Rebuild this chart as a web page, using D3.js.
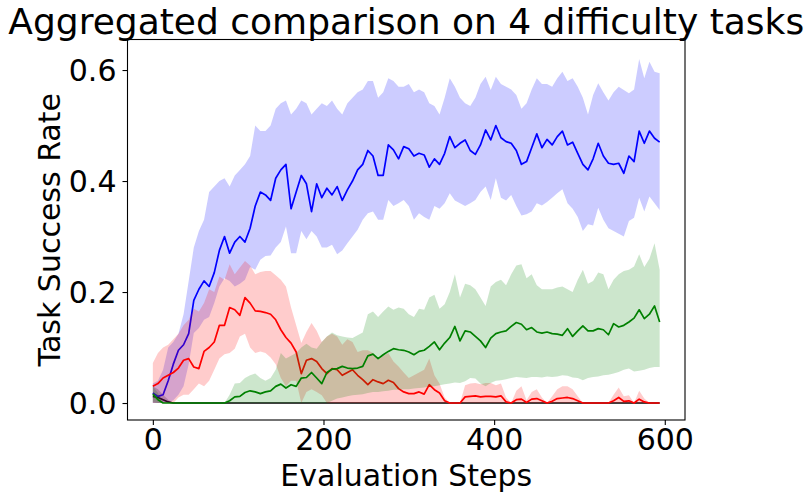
<!DOCTYPE html>
<html>
<head>
<meta charset="utf-8">
<script src="https://cdn.jsdelivr.net/npm/d3@7"></script>
<style>
  body { margin: 0; background: #fff; }
  text { font-family: "DejaVu Sans", sans-serif; }
</style>
</head>
<body>
<div id="chart"></div>
<script>
// evaluation steps (every 6 steps, 0..594)
var steps = d3.range(0, 595, 6);

var blueMean = [
  0.018, 0.012, 0.015, 0.04, 0.07, 0.095, 0.105, 0.125, 0.185, 0.205,
  0.22, 0.21, 0.235, 0.275, 0.30, 0.27, 0.29, 0.30, 0.29, 0.315,
  0.355, 0.38, 0.375, 0.365, 0.405, 0.42, 0.43, 0.35, 0.38, 0.41,
  0.395, 0.345, 0.395, 0.37, 0.387, 0.375, 0.39, 0.365, 0.384, 0.40,
  0.42, 0.43, 0.455, 0.445, 0.41, 0.41, 0.465, 0.456, 0.44, 0.462,
  0.458, 0.445, 0.45, 0.447, 0.425, 0.44, 0.43, 0.45, 0.48, 0.46,
  0.468, 0.474, 0.455, 0.448, 0.465, 0.492, 0.474, 0.50, 0.478, 0.471,
  0.468, 0.455, 0.43, 0.435, 0.46, 0.485, 0.46, 0.475, 0.465, 0.48,
  0.49, 0.465, 0.47, 0.45, 0.43, 0.42, 0.44, 0.468, 0.445, 0.432,
  0.43, 0.432, 0.414, 0.445, 0.435, 0.49, 0.468, 0.49, 0.477, 0.47
];
var blueHi = [
  0.035, 0.04, 0.06, 0.10, 0.11, 0.125, 0.16, 0.22, 0.28, 0.31,
  0.33, 0.38, 0.39, 0.40, 0.405, 0.39, 0.41, 0.42, 0.43, 0.445,
  0.50, 0.49, 0.49, 0.50, 0.53, 0.54, 0.545, 0.52, 0.53, 0.545,
  0.54, 0.52, 0.53, 0.54, 0.535, 0.545, 0.53, 0.52, 0.54, 0.55,
  0.56, 0.565, 0.58, 0.58, 0.55, 0.56, 0.585, 0.58, 0.57, 0.57,
  0.575, 0.56, 0.565, 0.56, 0.54, 0.535, 0.52, 0.55, 0.585, 0.57,
  0.55, 0.54, 0.535, 0.55, 0.575, 0.588, 0.564, 0.588, 0.575, 0.57,
  0.565, 0.555, 0.53, 0.54, 0.565, 0.585, 0.575, 0.575, 0.57, 0.585,
  0.597, 0.58, 0.585, 0.57, 0.55, 0.52, 0.555, 0.576, 0.56, 0.545,
  0.56, 0.57, 0.564, 0.558, 0.565, 0.62, 0.585, 0.615, 0.597, 0.594
];
var blueLo = [
  0, 0, 0, 0, 0.005, 0.015, 0.03, 0.07, 0.126, 0.135,
  0.15, 0.155, 0.18, 0.21, 0.225, 0.22, 0.21, 0.215, 0.222, 0.245,
  0.24, 0.258, 0.265, 0.266, 0.28, 0.29, 0.318, 0.27, 0.27, 0.31,
  0.295, 0.31, 0.30, 0.28, 0.28, 0.285, 0.268, 0.275, 0.288, 0.30,
  0.312, 0.33, 0.342, 0.345, 0.33, 0.33, 0.366, 0.355, 0.36, 0.366,
  0.355, 0.33, 0.342, 0.335, 0.33, 0.355, 0.35, 0.36, 0.378, 0.365,
  0.36, 0.355, 0.36, 0.366, 0.38, 0.39, 0.366, 0.405, 0.37, 0.365,
  0.375, 0.355, 0.338, 0.34, 0.345, 0.36, 0.356, 0.362, 0.37, 0.378,
  0.385, 0.36, 0.35, 0.335, 0.31, 0.322, 0.32, 0.352, 0.33, 0.315,
  0.31, 0.305, 0.30, 0.328, 0.334, 0.37, 0.345, 0.372, 0.36, 0.348
];

var redMean = [
  0.03, 0.035, 0.045, 0.05, 0.055, 0.063, 0.077, 0.08, 0.065, 0.062,
  0.093, 0.10, 0.11, 0.14, 0.14, 0.172, 0.168, 0.158, 0.19, 0.18,
  0.166, 0.165, 0.163, 0.16, 0.15, 0.132, 0.118, 0.108, 0.092, 0.053,
  0.077, 0.08, 0.075, 0.062, 0.053, 0.062, 0.06, 0.05, 0.055, 0.06,
  0.05, 0.042, 0.033, 0.042, 0.038, 0.035, 0.041, 0.037, 0.026, 0.02,
  0.017, 0.017, 0.02, 0.016, 0.033, 0.024, 0.018, 0.004, 0, 0,
  0, 0.011, 0.012, 0.013, 0.011, 0.012, 0.012, 0.011, 0.013, 0.002,
  0, 0.006, 0.007, 0.001, 0.007, 0.008, 0.004, 0, 0.003, 0.008,
  0.009, 0.01, 0.008, 0.004, 0, 0, 0, 0, 0, 0,
  0.004, 0.01, 0.003, 0.004, 0, 0.007, 0.002, 0, 0, 0
];
var redHi = [
  0.072, 0.09, 0.10, 0.105, 0.115, 0.125, 0.14, 0.15, 0.17, 0.165,
  0.18, 0.205, 0.20, 0.228, 0.222, 0.25, 0.232, 0.244, 0.256, 0.248,
  0.232, 0.236, 0.238, 0.238, 0.23, 0.222, 0.21, 0.172, 0.14, 0.108,
  0.128, 0.144, 0.13, 0.11, 0.12, 0.125, 0.12, 0.105, 0.115, 0.11,
  0.092, 0.095, 0.095, 0.09, 0.078, 0.085, 0.09, 0.075, 0.066, 0.055,
  0.045, 0.05, 0.055, 0.06, 0.08, 0.05, 0.035, 0.01, 0, 0,
  0, 0.032, 0.035, 0.036, 0.034, 0.036, 0.036, 0.032, 0.035, 0.01,
  0, 0.022, 0.03, 0.005, 0.02, 0.025, 0.01, 0, 0.012, 0.025,
  0.03, 0.03, 0.025, 0.012, 0, 0, 0, 0, 0, 0,
  0.015, 0.028, 0.012, 0.014, 0, 0.022, 0.008, 0, 0, 0
];
var redLo = [
  0, 0, 0, 0, 0, 0.01, 0.015, 0.015, 0.025, 0.035,
  0.03, 0.04, 0.06, 0.08, 0.088, 0.09, 0.098, 0.12, 0.125, 0.1,
  0.09, 0.093, 0.09, 0.082, 0.07, 0.045, 0.03, 0.04, 0.04, 0,
  0.02, 0.025, 0.02, 0.014, 0, 0, 0, 0, 0, 0,
  0, 0, 0, 0, 0, 0, 0, 0, 0, 0,
  0, 0, 0, 0, 0, 0, 0, 0, 0, 0,
  0, 0, 0, 0, 0, 0, 0, 0, 0, 0,
  0, 0, 0, 0, 0, 0, 0, 0, 0, 0,
  0, 0, 0, 0, 0, 0, 0, 0, 0, 0,
  0, 0, 0, 0, 0, 0, 0, 0, 0, 0
];

var greenMean = [
  0.016, 0.006, 0, 0, 0, 0, 0, 0, 0, 0,
  0, 0, 0, 0, 0, 0.004, 0.011, 0.012, 0.019, 0.022,
  0.02, 0.017, 0.02, 0.022, 0.03, 0.034, 0.027, 0.033, 0.03, 0.045,
  0.046, 0.055, 0.045, 0.035, 0.055, 0.061, 0.062, 0.066, 0.063, 0.062,
  0.063, 0.066, 0.085, 0.088, 0.08, 0.087, 0.093, 0.098, 0.096, 0.095,
  0.092, 0.087, 0.093, 0.095, 0.102, 0.11, 0.096, 0.108, 0.118, 0.138,
  0.112, 0.13, 0.128, 0.12, 0.112, 0.1, 0.117, 0.125, 0.128, 0.13,
  0.138, 0.145, 0.142, 0.132, 0.136, 0.128, 0.126, 0.128, 0.125, 0.124,
  0.122, 0.134, 0.12, 0.13, 0.139, 0.13, 0.13, 0.134, 0.132, 0.123,
  0.143, 0.137, 0.14, 0.146, 0.153, 0.168, 0.152, 0.16, 0.175, 0.146
];
var greenHi = [
  0.03, 0.018, 0, 0, 0, 0, 0, 0, 0, 0,
  0, 0, 0, 0, 0, 0.015, 0.035, 0.036, 0.045, 0.05,
  0.053, 0.045, 0.04, 0.045, 0.06, 0.09, 0.08, 0.085, 0.09, 0.1,
  0.107, 0.1, 0.098, 0.11, 0.12, 0.127, 0.122, 0.12, 0.118, 0.117,
  0.122, 0.127, 0.16, 0.165, 0.155, 0.165, 0.174, 0.168, 0.172, 0.17,
  0.16, 0.155, 0.17, 0.168, 0.19, 0.195, 0.17, 0.178, 0.2, 0.232,
  0.19, 0.215, 0.212, 0.205, 0.19, 0.175, 0.21, 0.218, 0.222, 0.212,
  0.232, 0.248, 0.25, 0.225, 0.232, 0.212, 0.205, 0.205, 0.205, 0.208,
  0.21, 0.205, 0.2, 0.222, 0.24, 0.215, 0.22, 0.235, 0.232, 0.205,
  0.222, 0.232, 0.238, 0.24, 0.246, 0.268, 0.245, 0.26, 0.288, 0.24
];
var greenLo = [
  0.002, 0, 0, 0, 0, 0, 0, 0, 0, 0,
  0, 0, 0, 0, 0, 0, 0, 0, 0, 0,
  0, 0, 0, 0, 0, 0, 0, 0, 0, 0,
  0, 0, 0, 0, 0, 0.004, 0.008, 0.01, 0.012, 0.014,
  0.015, 0.016, 0.018, 0.02, 0.02, 0.021, 0.022, 0.024, 0.024, 0.025,
  0.025, 0.026, 0.027, 0.028, 0.03, 0.03, 0.032, 0.034, 0.035, 0.037,
  0.036, 0.039, 0.045, 0.044, 0.035, 0.03, 0.036, 0.04, 0.041, 0.043,
  0.045, 0.047, 0.046, 0.045, 0.047, 0.047, 0.046, 0.048, 0.047, 0.048,
  0.05, 0.049, 0.046, 0.045, 0.041, 0.045, 0.047, 0.048, 0.05, 0.051,
  0.053, 0.056, 0.06, 0.062, 0.057, 0.058, 0.06, 0.063, 0.065, 0.065
];

// fourth method: fails almost at once
var blackSteps = [0, 6, 12, 18, 24, 594];
var blackMean = [0.012, 0.01, 0.006, 0.002, 0, 0];
var blackHi = [0.03, 0.025, 0.015, 0.006, 0, 0];
var blackLo = [0, 0, 0, 0, 0, 0];

var xTicks = [0, 200, 400, 600];
var yTicks = [0.0, 0.2, 0.4, 0.6];

// Width and height
var w = 811;
var h = 496;
var plot = {left: 127.5, right: 685, top: 39.5, bottom: 420};

var svg = d3.select("#chart")
  .append("svg")
  .attr("width", w)
  .attr("height", h)
  .style("background-color", "#fff");

var x = d3.scaleLinear().domain([-29.7, 623.7]).range([plot.left, plot.right]);
var y = d3.scaleLinear().domain([-0.0306, 0.655]).range([plot.bottom, plot.top]);

svg.append("clipPath").attr("id", "clip")
  .append("rect")
  .attr("x", plot.left).attr("y", plot.top)
  .attr("width", plot.right - plot.left)
  .attr("height", plot.bottom - plot.top);

function makeRows(xs, m, lo, hi) {
  return xs.map(function(s, i) { return {x: s, m: m[i], lo: lo[i], hi: hi[i]}; });
}

var series = [
  {color: "black", rows: makeRows(blackSteps, blackMean, blackLo, blackHi)},
  {color: "blue", rows: makeRows(steps, blueMean, blueLo, blueHi)},
  {color: "red", rows: makeRows(steps, redMean, redLo, redHi)},
  {color: "green", rows: makeRows(steps, greenMean, greenLo, greenHi)}
];

var area = d3.area()
  .x(function(d) { return x(d.x); })
  .y0(function(d) { return y(d.lo); })
  .y1(function(d) { return y(d.hi); });

var line = d3.line()
  .x(function(d) { return x(d.x); })
  .y(function(d) { return y(d.m); });

var g = svg.append("g").attr("clip-path", "url(#clip)");

series.forEach(function(s) {
  g.append("path")
    .attr("d", area(s.rows))
    .style("fill", s.color)
    .style("fill-opacity", 0.2)
    .style("stroke", "none");
  g.append("path")
    .attr("d", line(s.rows))
    .style("fill", "none")
    .style("stroke", s.color)
    .style("stroke-width", 1.7)
    .style("stroke-linejoin", "round");
});

// Axes
var xAxis = svg.append("g")
  .attr("transform", "translate(0," + plot.bottom + ")")
  .call(d3.axisBottom(x).tickValues(xTicks).tickSize(5).tickPadding(6).tickFormat(d3.format("d")));

var yAxis = svg.append("g")
  .attr("transform", "translate(" + plot.left + ",0)")
  .call(d3.axisLeft(y).tickValues(yTicks).tickSize(5).tickPadding(6).tickFormat(d3.format(".1f")));

[xAxis, yAxis].forEach(function(a) {
  a.select(".domain").remove();
  a.selectAll(".tick line").style("stroke", "#000").style("stroke-width", 1.1);
  a.selectAll(".tick text")
    .style("font-family", "DejaVu Sans")
    .style("font-size", "30px")
    .style("fill", "#000");
});
xAxis.selectAll(".tick text").attr("dy", "0.64em");
yAxis.selectAll(".tick text").attr("dy", "0.36em");

// frame
svg.append("rect")
  .attr("x", plot.left).attr("y", plot.top)
  .attr("width", plot.right - plot.left)
  .attr("height", plot.bottom - plot.top)
  .style("fill", "none")
  .style("stroke", "#000")
  .style("stroke-width", 1.1);

// labels
svg.append("text")
  .attr("x", (plot.left + plot.right) / 2)
  .attr("y", 486)
  .attr("text-anchor", "middle")
  .style("font-size", "30px")
  .text("Evaluation Steps");

svg.append("text")
  .attr("transform", "translate(60," + ((plot.top + plot.bottom) / 2) + ") rotate(-90)")
  .attr("text-anchor", "middle")
  .style("font-size", "30px")
  .text("Task Success Rate");

svg.append("text")
  .attr("x", (plot.left + plot.right) / 2)
  .attr("y", 34)
  .attr("text-anchor", "middle")
  .style("font-size", "36px")
  .text("Aggregated comparison on 4 difficulty tasks");
</script>
</body>
</html>
